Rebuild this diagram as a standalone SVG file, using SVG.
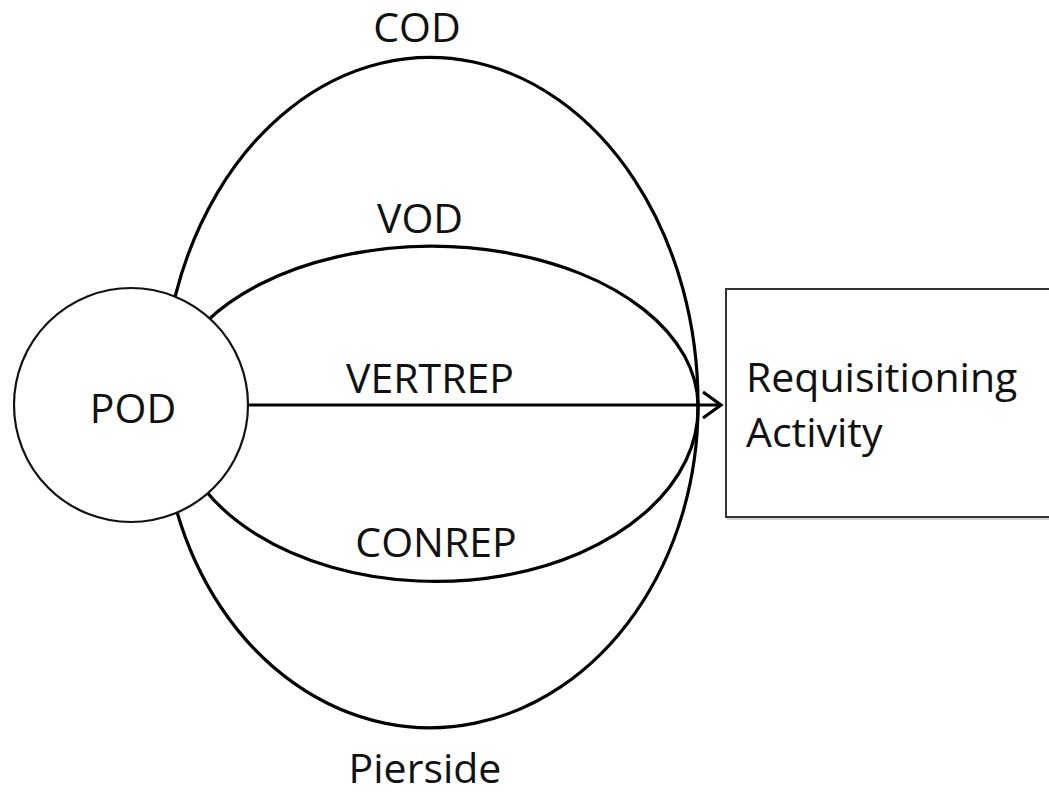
<svg xmlns="http://www.w3.org/2000/svg" width="1049" height="795" viewBox="0 0 1049 795">
<style>
.t{font-family:"Open Sans","DejaVu Sans",sans-serif;font-size:41px;fill:#111}
.c{fill:none;stroke:#000;stroke-width:3.2}
</style>
<rect width="1049" height="795" fill="#fff"/>
<g id="connectors">
<path class="c" d="M175 297 A268 346 0 0 1 698 405"/>
<path class="c" d="M698 405 A268 322 0 0 1 177 512"/>
<path class="c" d="M207 321 A266 160 0 0 1 698 405"/>
<path class="c" d="M698 405 A262 173 0 0 1 205 490"/>
<line class="c" x1="248" y1="405" x2="720" y2="405"/>
<polyline class="c" points="703,392 721,405 703,418" stroke-linejoin="miter"/>
<text class="t" x="417" y="42" text-anchor="middle">COD</text>
<text class="t" x="420" y="233" text-anchor="middle">VOD</text>
<text class="t" x="430" y="393" text-anchor="middle">VERTREP</text>
<text class="t" x="436" y="557" text-anchor="middle">CONREP</text>
<text class="t" x="425" y="783" text-anchor="middle">Pierside</text>
</g>
<g id="pod">
<circle cx="131" cy="405" r="117" fill="#fff" stroke="#111" stroke-width="2.2"/>
<text class="t" x="133" y="423" text-anchor="middle">POD</text>
</g>
<g id="requisitioning">
<rect x="728" y="291" width="330" height="228" fill="none" stroke="#bbb" stroke-width="2" opacity="0.6"/>
<rect x="726" y="289" width="330" height="228" fill="#fff" stroke="#333" stroke-width="2"/>
<text class="t" x="746" y="392">Requisitioning</text>
<text class="t" x="746" y="447">Activity</text>
</g>
</svg>
